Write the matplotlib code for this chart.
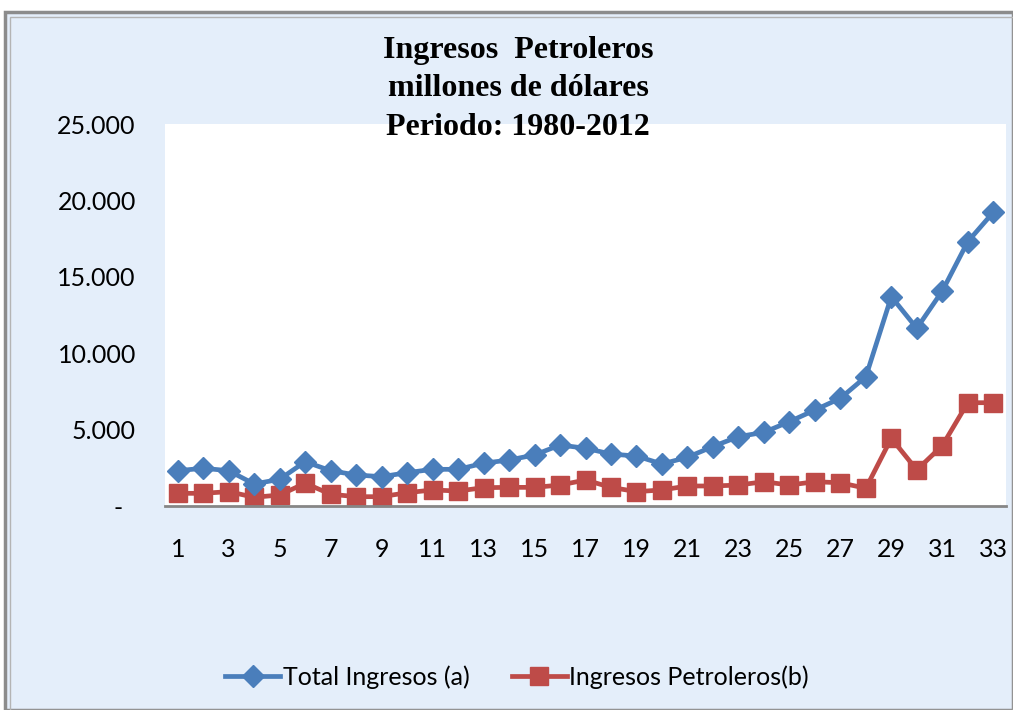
import matplotlib
matplotlib.use("Agg")
import matplotlib.pyplot as plt
from matplotlib.patches import Rectangle
from matplotlib.ticker import FixedLocator, FuncFormatter

periods = list(range(1, 34))
total_ingresos = [2310, 2470, 2310, 1440, 1750, 2900, 2310, 2030, 1920, 2180,
                  2400, 2400, 2800, 3010, 3340, 3990, 3780, 3400, 3270, 2750,
                  3190, 3890, 4540, 4820, 5520, 6280, 7050, 8460, 13700, 11630,
                  14070, 17300, 19220]
ingresos_petroleros = [830, 830, 940, 570, 720, 1490, 770, 610, 610, 870,
                       1050, 980, 1200, 1220, 1220, 1370, 1700, 1220, 940, 1050,
                       1310, 1310, 1370, 1590, 1370, 1590, 1520, 1160, 4430, 2360,
                       3950, 6760, 6760]
y_ticks = [0, 5000, 10000, 15000, 20000, 25000]
x_tick_labels = list(range(1, 34, 2))
title_lines = ["Ingresos  Petroleros", "millones de dólares", "Periodo: 1980-2012"]
legend_labels = ["Total Ingresos (a)", "Ingresos Petroleros(b)"]

W, H = 1013, 710
fig = plt.figure(figsize=(W / 100, H / 100), dpi=100)
fig.patch.set_facecolor("white")

bg = "#E4EEFA"
# outer frame
fig.add_artist(Rectangle((5 / W, 0), 1 - 5 / W, 1 - 12 / H, transform=fig.transFigure,
                         facecolor=bg, edgecolor="#8C8C8C", linewidth=2.5, zorder=-10))
fig.add_artist(Rectangle((10 / W, 0), 1 - 10 / W, 1 - 17 / H, transform=fig.transFigure,
                         facecolor="none", edgecolor="#B4B4B4", linewidth=1.0, zorder=-9))

ax = fig.add_axes([165 / W, 1 - 506 / H, (1006 - 165) / W, (506 - 124) / H])
ax.set_zorder(1)
ax.set_facecolor("white")

blue = "#4A7EBB"
red = "#BE4B48"
l1, = ax.plot(periods, total_ingresos, color=blue, lw=3.4, marker="D", ms=11,
              markeredgecolor=blue, zorder=3, label=legend_labels[0], clip_on=False)
l2, = ax.plot(periods, ingresos_petroleros, color=red, lw=3.4, marker="s", ms=13.5,
              markeredgecolor=red, zorder=2, label=legend_labels[1], clip_on=False)

ax.set_xlim(0.5, 33.5)
ax.set_ylim(0, 25000)
ax.xaxis.set_major_locator(FixedLocator(x_tick_labels))
ax.yaxis.set_major_locator(FixedLocator(y_ticks))

def yfmt(v, pos):
    if v == 0:
        return "-  "
    return f"{int(v):,}".replace(",", ".")

ax.yaxis.set_major_formatter(FuncFormatter(yfmt))
ax.xaxis.set_major_formatter(FuncFormatter(lambda v, p: f"{int(v)}"))

for s in ["top", "right", "left"]:
    ax.spines[s].set_visible(False)
ax.spines["bottom"].set_color("#868686")
ax.spines["bottom"].set_linewidth(2)
ax.tick_params(axis="both", length=0, labelsize=18, colors="black")
ax.tick_params(axis="y", pad=21)
ax.tick_params(axis="x", pad=23)
for lab in ax.get_xticklabels() + ax.get_yticklabels():
    lab.set_family(["Lato", "DejaVu Sans"])

fig.text(518 / W, 1 - 89 / H, "\n".join(title_lines), ha="center", va="center",
         family="Liberation Serif", fontweight="bold", fontsize=23, linespacing=1.42,
         zorder=5)

leg = fig.legend(handles=[l1, l2], loc="center", bbox_to_anchor=(517 / W, 1 - 677 / H),
                 ncol=2, frameon=False, prop={"family": "Lato", "size": 18},
                 handlelength=2.2, handletextpad=0.1, columnspacing=1.7)

fig.savefig("out.png", dpi=100, facecolor=fig.get_facecolor())
